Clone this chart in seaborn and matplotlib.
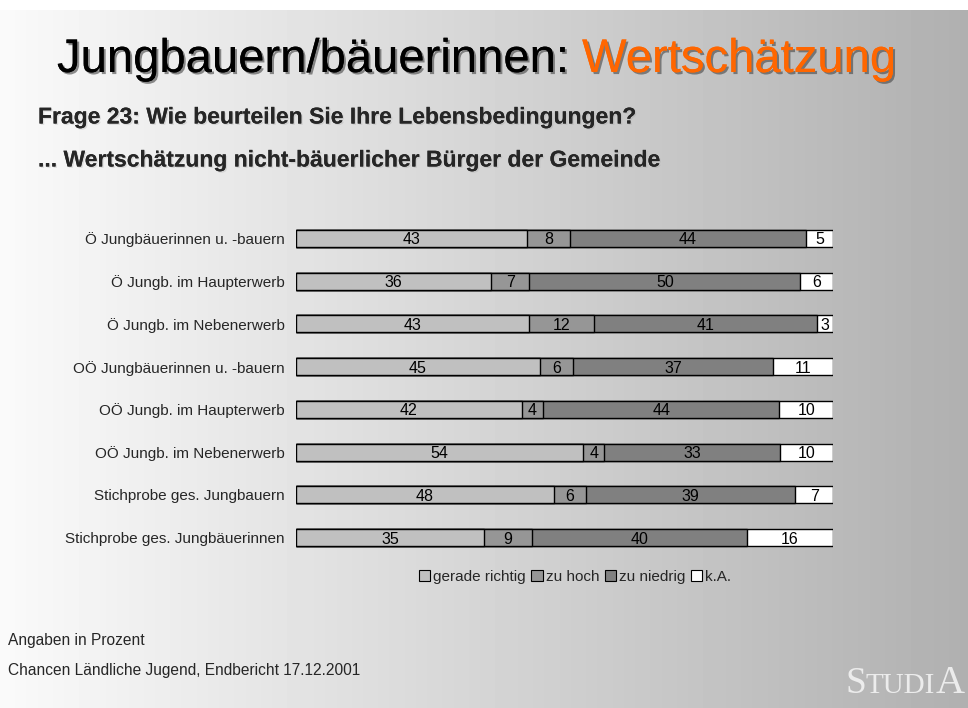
import numpy as np
import pandas as pd
import matplotlib.pyplot as plt
import matplotlib.patheffects as pe
from matplotlib.patches import Patch
import seaborn as sns

categories = ['Ö Jungbäuerinnen u. -bauern', 'Ö Jungb. im Haupterwerb', 'Ö Jungb. im Nebenerwerb',
              'OÖ Jungbäuerinnen u. -bauern', 'OÖ Jungb. im Haupterwerb', 'OÖ Jungb. im Nebenerwerb',
              'Stichprobe ges. Jungbauern', 'Stichprobe ges. Jungbäuerinnen']
gerade_richtig = [43, 36, 43, 45, 42, 54, 48, 35]
zu_hoch = [8, 7, 12, 6, 4, 4, 6, 9]
zu_niedrig = [44, 50, 41, 37, 44, 33, 39, 40]
k_a = [5, 6, 3, 11, 10, 10, 7, 16]
series_names = ['gerade richtig', 'zu hoch', 'zu niedrig', 'k.A.']
colors = ['#c0c0c0', '#969696', '#808080', '#ffffff']

W, H = 968, 708
fig = plt.figure(figsize=(W / 100, H / 100), dpi=100)

# background gradient
bg = fig.add_axes([0, 0, 1, 1])
grad = np.linspace(0.98, 0.69, 256)
img = np.tile(grad, (10, 1))
bg.imshow(img, cmap='gray', vmin=0, vmax=1, aspect='auto', extent=[0, 1, 0, 1 - 10 / H])
bg.set_xlim(0, 1)
bg.set_ylim(0, 1)
bg.axis('off')

sns.set_style('white')
plt.rcParams['font.family'] = ['Liberation Sans', 'DejaVu Sans']

df = pd.DataFrame({'cat': categories, 'gerade richtig': gerade_richtig, 'zu hoch': zu_hoch,
                   'zu niedrig': zu_niedrig, 'k.A.': k_a})
vals = df[series_names].to_numpy(dtype=float)
pct = vals / vals.sum(axis=1, keepdims=True) * 100
cum = np.cumsum(pct, axis=1)

x0, x1 = 296, 833
y_top, y_bot = 217, 559
ax = fig.add_axes([x0 / W, 1 - y_bot / H, (x1 - x0) / W, (y_bot - y_top) / H])
ax.patch.set_alpha(0)

# stacked bars: draw cumulative totals from the back forward
for i in range(3, -1, -1):
    d = pd.DataFrame({'cat': categories, 'v': cum[:, i]})
    sns.barplot(data=d, x='v', y='cat', orient='h', color=colors[i], saturation=1,
                edgecolor='black', linewidth=1, width=0.4, ax=ax)

for r in range(len(categories)):
    for i in range(4):
        left = cum[r, i] - pct[r, i]
        ax.text(left + pct[r, i] / 2, r, f'{int(vals[r, i])}', ha='center', va='center_baseline',
                fontsize=11.5, color='black')

ax.set_xlim(0, 100)
ax.set_ylim(7.5, -0.5)
ax.set_xlabel('')
ax.set_ylabel('')
ax.set_xticks([])
ax.tick_params(axis='y', length=0, pad=8, labelsize=11)
sns.despine(ax=ax, left=True, bottom=True)

handles = [Patch(facecolor=c, edgecolor='black', linewidth=0.8) for c in colors]
fig.legend(handles, series_names, loc='center', bbox_to_anchor=(575 / W, 1 - 577 / H),
           ncol=4, frameon=False, fontsize=11, handlelength=0.75, handleheight=0.75,
           handletextpad=0.2, columnspacing=0.35)

shadow = [pe.withSimplePatchShadow(offset=(1.5, -1.5), shadow_rgbFace='#444444', alpha=0.6), pe.Normal()]
t1 = fig.text(57 / W, 1 - 60 / H, 'Jungbauern/bäuerinnen: ', fontsize=34, va='center',
              ha='left', color='black', path_effects=shadow)
fig.canvas.draw()
bb = t1.get_window_extent()
fig.text(bb.x1 / W, 1 - 60 / H, 'Wertschätzung', fontsize=34, va='center', ha='left',
         color='#ff6600', path_effects=shadow)

sub_shadow = [pe.withSimplePatchShadow(offset=(1, -1), shadow_rgbFace='#999999', alpha=0.25), pe.Normal()]
fig.text(38 / W, 1 - 117 / H, 'Frage 23: Wie beurteilen Sie Ihre Lebensbedingungen?',
         fontsize=16.5, fontweight='bold', va='center', ha='left', path_effects=sub_shadow)
fig.text(38 / W, 1 - 160 / H, '... Wertschätzung nicht-bäuerlicher Bürger der Gemeinde',
         fontsize=16.5, fontweight='bold', va='center', ha='left', path_effects=sub_shadow)

fig.text(8 / W, 1 - 641 / H, 'Angaben in Prozent', fontsize=11.2, va='center', ha='left')
fig.text(8 / W, 1 - 671 / H, 'Chancen Ländliche Jugend, Endbericht 17.12.2001', fontsize=11.2,
         va='center', ha='left')

# STUDIA logo in small caps
logo_col = '#ececec'
s1 = fig.text(845 / W, 1 - 693 / H, 'S', fontsize=27, family='Liberation Serif', color=logo_col,
              va='baseline', ha='left')
fig.canvas.draw()
e = s1.get_window_extent()
s2 = fig.text(e.x1 / W, 1 - 693 / H, 'TUDI', fontsize=21, family='Liberation Serif',
              color=logo_col, va='baseline', ha='left')
fig.canvas.draw()
e = s2.get_window_extent()
fig.text(e.x1 / W, 1 - 693 / H, 'A', fontsize=29, family='Liberation Serif', color=logo_col,
         va='baseline', ha='left')

fig.savefig('out.png', dpi=100)
